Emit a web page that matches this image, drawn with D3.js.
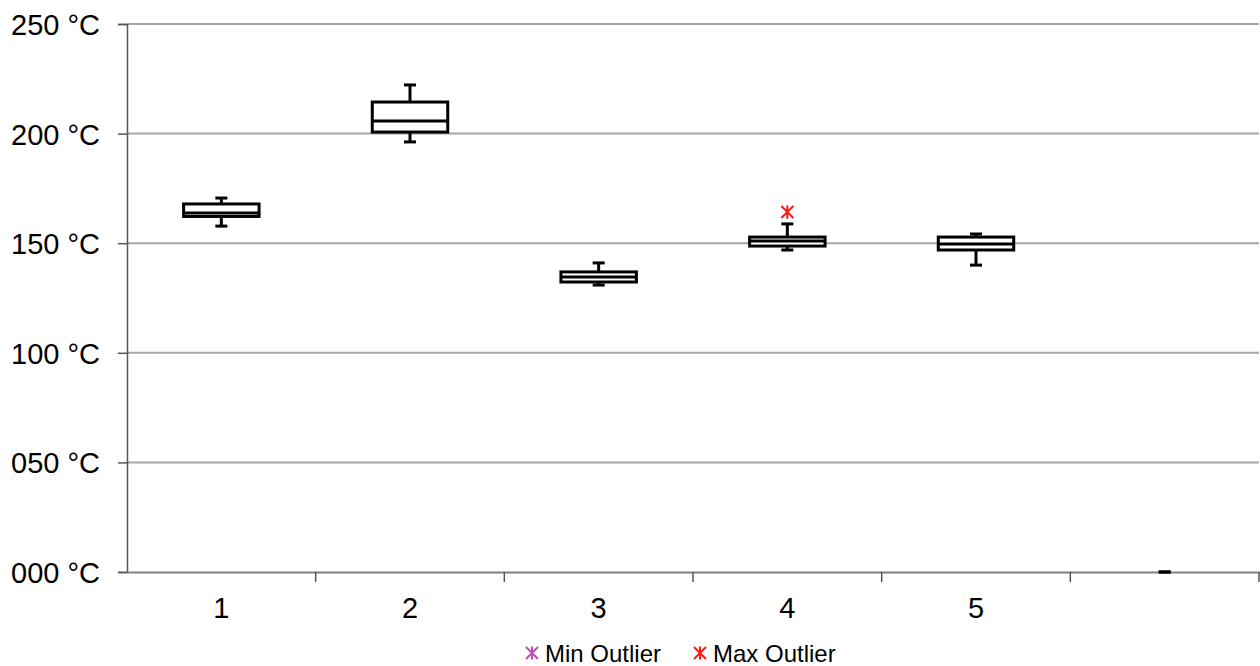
<!DOCTYPE html>
<html>
<head>
<meta charset="utf-8">
<script src="https://cdnjs.cloudflare.com/ajax/libs/d3/7.8.5/d3.min.js"></script>
<style>
  body { margin: 0; background: #fff; }
  svg { display: block; }
  svg text { font-family: "Liberation Sans", Arial, sans-serif; }
</style>
</head>
<body>
<svg id="chart" width="1260" height="666"></svg>
<script>
    // values (°C)
    var categories = ["1", "2", "3", "4", "5", ""];
    var whiskerMin = [157.8, 196.2, 130.9, 146.9, 140.0, 0];
    var q1 = [162.2, 200.7, 132.3, 148.7, 146.9, null];
    var median = [163.8, 205.7, 134.6, 151.0, 149.6, null];
    var q3 = [167.9, 214.4, 136.9, 152.8, 152.8, null];
    var whiskerMax = [170.6, 222.2, 141.0, 158.8, 154.2, 0];
    var minOutliers = [null, null, null, null, null, null];
    var maxOutliers = [null, null, null, 164.2, null, null];
    var yTicks = [0, 50, 100, 150, 200, 250];
    var legendItems = ["Min Outlier", "Max Outlier"];
    var legendColors = ["#c04cb8", "#ff1a1a"];

    var svg = d3.select("#chart");
    var plotLeft = 127, plotRight = 1259, plotTop = 24, plotBottom = 572;

    var x = d3.scaleBand().domain(d3.range(categories.length)).range([plotLeft, plotRight]);
    var y = d3.scaleLinear().domain([0, 250]).range([plotBottom, plotTop]);

    function fmt(v) { return d3.format("03d")(v) + " °C"; }

    // grid lines
    svg.append("g")
        .selectAll("line")
        .data(yTicks.filter(d => d > 0))
        .enter()
        .append("line")
        .attr("x1", plotLeft).attr("x2", plotRight)
        .attr("y1", d => y(d)).attr("y2", d => y(d))
        .style("stroke", "#a6a6a6")
        .style("stroke-width", 2);

    // y axis
    var yAxis = svg.append("g")
        .attr("transform", "translate(" + plotLeft + ",0)")
        .call(d3.axisLeft(y).tickValues(yTicks).tickFormat(fmt).tickSize(9).tickPadding(8));
    yAxis.attr("font-family", null);
    yAxis.select(".domain").style("stroke", "#555").style("stroke-width", 1.5);
    yAxis.selectAll(".tick line").style("stroke", "#555").style("stroke-width", 1.5);
    yAxis.selectAll("text").style("font-size", "29px").style("fill", "#000")
        .attr("x", -27).attr("dy", "0.36em");

    // x axis
    var xAxis = svg.append("g")
        .attr("transform", "translate(0," + plotBottom + ")")
        .call(d3.axisBottom(x).tickFormat(i => categories[i]).tickSize(0).tickPadding(25));
    xAxis.attr("font-family", null);
    xAxis.select(".domain").style("stroke", "#808080").style("stroke-width", 2);
    xAxis.selectAll("text").style("font-size", "29px").style("fill", "#000");
    xAxis.selectAll(".bound")
        .data(d3.range(1, categories.length + 1))
        .enter()
        .append("line")
        .attr("class", "bound")
        .attr("x1", i => plotLeft + x.step() * i).attr("x2", i => plotLeft + x.step() * i)
        .attr("y1", 0).attr("y2", 10)
        .style("stroke", "#555")
        .style("stroke-width", 1.5);

    // boxes
    var boxW = x.bandwidth() * 0.4, capW = 12;
    var g = svg.append("g");
    categories.forEach(function(c, i) {
        var cx = x(i) + x.bandwidth() / 2;
        var s = g.append("g").style("stroke", "#000").style("stroke-width", 3).style("fill", "none");
        if (q1[i] !== null) {
            s.append("line").attr("x1", cx).attr("x2", cx).attr("y1", y(whiskerMax[i])).attr("y2", y(q3[i]));
            s.append("line").attr("x1", cx).attr("x2", cx).attr("y1", y(q1[i])).attr("y2", y(whiskerMin[i]));
        }
        s.append("line").attr("x1", cx - capW / 2).attr("x2", cx + capW / 2)
            .attr("y1", y(whiskerMax[i])).attr("y2", y(whiskerMax[i]));
        s.append("line").attr("x1", cx - capW / 2).attr("x2", cx + capW / 2)
            .attr("y1", y(whiskerMin[i])).attr("y2", y(whiskerMin[i]));
        if (q1[i] !== null) {
            s.append("rect")
                .attr("x", cx - boxW / 2).attr("width", boxW)
                .attr("y", y(q3[i])).attr("height", y(q1[i]) - y(q3[i]))
                .style("fill", "#fff");
            s.append("line").attr("x1", cx - boxW / 2).attr("x2", cx + boxW / 2)
                .attr("y1", y(median[i])).attr("y2", y(median[i]));
        }
    });

    function star(sel, cx, cy, r, color) {
        var p = d3.path();
        p.moveTo(cx - r, cy - r); p.lineTo(cx + r, cy + r);
        p.moveTo(cx + r, cy - r); p.lineTo(cx - r, cy + r);
        p.moveTo(cx, cy - r * 1.1); p.lineTo(cx, cy + r * 1.1);
        sel.append("path").attr("d", p.toString())
            .style("stroke", color).style("stroke-width", 2).style("fill", "none");
    }

    categories.forEach(function(c, i) {
        var cx = x(i) + x.bandwidth() / 2;
        if (minOutliers[i] !== null) star(svg, cx, y(minOutliers[i]), 6, legendColors[0]);
        if (maxOutliers[i] !== null) star(svg, cx, y(maxOutliers[i]), 6, legendColors[1]);
    });

    // legend
    var leg = svg.append("g").attr("transform", "translate(0,653)");
    var lx = [532, 700];
    legendItems.forEach(function(t, i) {
        star(leg, lx[i], 0, 6, legendColors[i]);
        leg.append("text").attr("x", lx[i] + 13).attr("y", 0).attr("dy", "0.36em")
            .style("font-size", "24px").text(t);
    });
</script>
</body>
</html>
